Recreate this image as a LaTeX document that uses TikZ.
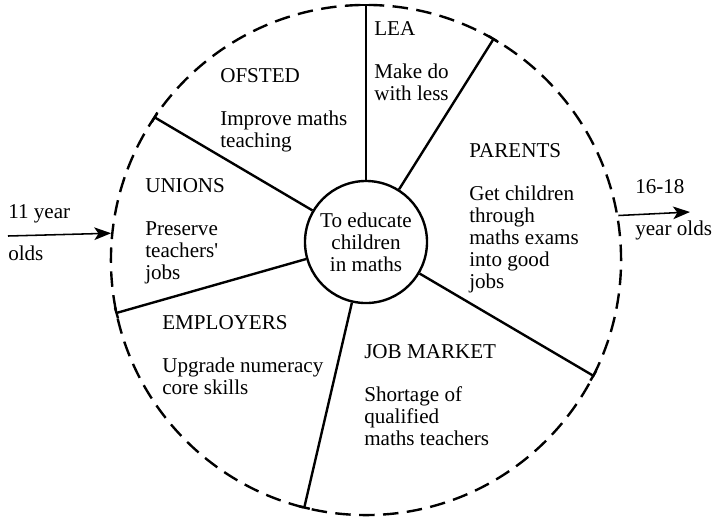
\documentclass[tikz,border=0pt]{standalone}
\usepackage{fontspec}
\setmainfont{Liberation Serif}
\usetikzlibrary{arrows.meta}
\tikzset{> = {Stealth[length=12pt, width=9pt, inset=3pt]},
  party/.style = {anchor = north west, align = left, inner sep = 0pt},
  tag/.style = {anchor = base west, inner sep = 0pt},
  spoke/.style = {line width = 1.7pt, -{Bar[width=8pt]}},
  flow/.style = {line width = 1.1pt, ->}}

\begin{document}
\begin{tikzpicture}[x = 0.025cm, y = -0.025cm, font = \fontsize{15}{15.6}\selectfont]
    \useasboundingbox (0,0) rectangle (713,516);
    \node [circle, draw, line width = 1.7pt, dash pattern = on 11pt off 6pt,
           minimum size = 12.75cm] (rim) at (366,260) {};
    \node [circle, draw, line width = 1.7pt, minimum size = 3.05cm, inner sep = 0pt,
           align = center] (aim) at (366,242) {To educate\\children\\in maths};
    % the six groups
    \node [party] (lea) at (374,21) {LEA\\[15pt]Make do\\with less};
    \node [party] (ofsted) at (220,68) {OFSTED\\[15pt]Improve maths\\teaching};
    \node [party] (unions) at (145,178) {UNIONS\\[15pt]Preserve\\teachers\textquotesingle\\jobs};
    \node [party] (parents) at (469,143) {PARENTS\\[15pt]Get children\\through\\maths exams\\into good\\jobs};
    \node [party] (employers) at (162,315) {EMPLOYERS\\[15pt]Upgrade numeracy\\core skills};
    \node [party] (jobmkt) at (364,344) {JOB MARKET\\[15pt]Shortage of\\qualified\\maths teachers};
    % paths
    \draw [spoke] (aim) -- (rim.90);
    \draw [spoke] (aim) -- (rim.60.8);
    \draw [spoke] (aim) -- (rim.-27.3);
    \draw [spoke] (aim) -- (rim.-104.7);
    \draw [spoke] (aim) -- (rim.192.5);
    \draw [spoke] (aim) -- (rim.146.6);
    % pupils in and out
    \coordinate (in) at (8,236);
    \coordinate (out) at (690,212);
    \draw [flow] (in) -- (rim.174.7);
    \draw [flow] (rim.10.6) -- (out);
    \node [tag] (inage) at (8,218) {11 year};
    \node [tag] (inolds) at (8,260) {olds};
    \node [tag] (outage) at (635,193) {16-18};
    \node [tag] (outolds) at (635,235) {year olds};
\end{tikzpicture}
\end{document}
